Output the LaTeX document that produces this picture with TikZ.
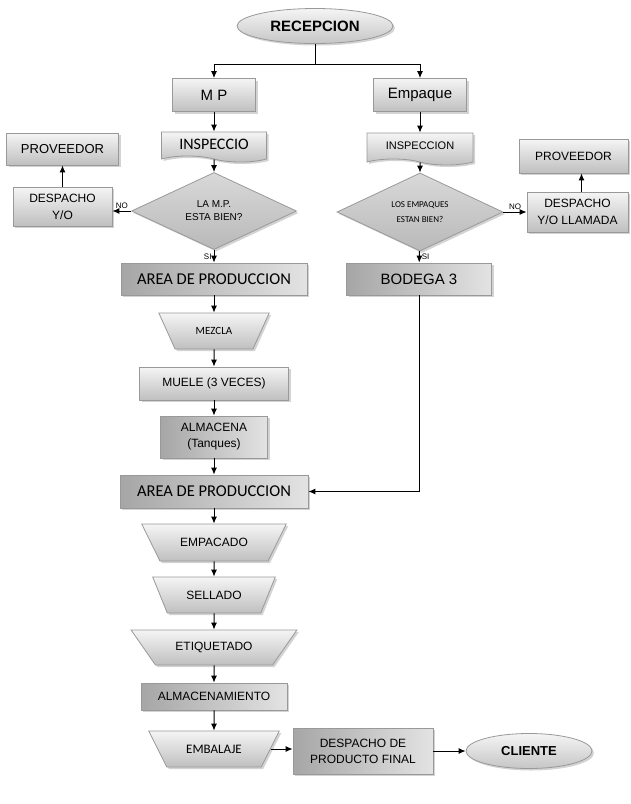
\documentclass[tikz,border=0pt]{standalone}
\usepackage{fontspec}
\setmainfont{Liberation Sans}
\newfontfamily\calibri{Carlito}
\usepackage{tikz}
\usetikzlibrary{shapes.geometric,shapes.symbols,shadows,arrows.meta}
\newcommand{\tam}[2]{\fontsize{#1}{#2}\selectfont}

\begin{document}
\begin{tikzpicture}[x=1pt,y=-1pt,>={Latex[length=7pt,width=6pt]},line width=1pt,
    every node/.style={inner sep=2pt,align=center},
    sombra/.style={drop shadow={shadow xshift=2pt,shadow yshift=-2pt,opacity=0.35}},
    caja/.style={rectangle,draw=gray!80,line width=0.8pt,top color=gray!8,bottom color=gray!50,sombra},
    cajaosc/.style={caja,left color=gray!70,right color=gray!22},
    elip/.style={ellipse,draw=gray!80,line width=0.8pt,top color=gray!8,bottom color=gray!45,sombra},
    decis/.style={diamond,draw=gray!80,line width=0.8pt,top color=gray!30,bottom color=gray!55,inner sep=0pt,sombra},
    doc/.style={caja,tape,tape bend top=none,tape bend bottom=out and in,tape bend height=6pt},
    trap/.style={caja,trapezium,trapezium stretches=true,shape border rotate=180},
    etiq/.style={font=\tam{8}{9},inner sep=2pt}]
    \useasboundingbox (0,0) rectangle (630,804);

    \node[elip,minimum width=156pt,minimum height=35pt,font=\bfseries\tam{15}{18}] (rec) at (315,26) {RECEPCION};
    \node[caja,minimum width=83pt,minimum height=33pt,font=\tam{15}{18}] (mp) at (214,95) {M P};
    \node[caja,minimum width=93pt,minimum height=33pt,font=\tam{15}{18}] (emp) at (420,95) {Empaque};
    \node[doc,minimum width=105pt,minimum height=30pt,font=\calibri\tam{16}{19}] (insp1) at (214,144) {INSPECCIO};
    \node[doc,minimum width=106pt,minimum height=32pt,font=\tam{11}{13}] (insp2) at (420,146) {INSPECCION};
    \node[decis,minimum width=165pt,minimum height=64pt,font=\tam{10}{13}] (dec1) at (214,211) {LA M.P.\\ESTA BIEN?};
    \node[decis,minimum width=166pt,minimum height=66pt,font=\calibri\tam{9}{15}] (dec2) at (420,212) {LOS EMPAQUES\\ESTAN BIEN?};
    \node[caja,minimum width=112pt,minimum height=32pt,font=\tam{13}{16}] (prov1) at (62.5,149) {PROVEEDOR};
    \node[caja,minimum width=99pt,minimum height=39pt,font=\tam{12}{17}] (desp1) at (62.5,206.5) {DESPACHO\\Y/O};
    \node[caja,minimum width=109pt,minimum height=34pt,font=\tam{12}{15}] (prov2) at (573.5,156) {PROVEEDOR};
    \node[caja,minimum width=101pt,minimum height=40pt,font=\tam{12}{17}] (desp2) at (577.5,212) {DESPACHO\\Y/O LLAMADA};
    \node[cajaosc,minimum width=186pt,minimum height=32pt,font=\calibri\tam{16.5}{19}] (area1) at (214,279) {AREA DE PRODUCCION};
    \node[cajaosc,minimum width=145pt,minimum height=32pt,font=\tam{15}{18}] (bod) at (419,279) {BODEGA 3};
    \node[trap,minimum width=111pt,minimum height=36pt,trapezium angle=53,font=\calibri\tam{11}{13}] (mez) at (214,331) {MEZCLA};
    \node[caja,minimum width=149pt,minimum height=33pt,font=\tam{12}{15}] (muele) at (214,383.5) {MUELE (3 VECES)};
    \node[cajaosc,minimum width=107pt,minimum height=42pt,font=\tam{12}{16}] (alm) at (214,437) {ALMACENA\\(Tanques)};
    \node[cajaosc,minimum width=188pt,minimum height=33pt,font=\calibri\tam{16.5}{19}] (area2) at (214,491.5) {AREA DE PRODUCCION};
    \node[trap,minimum width=145pt,minimum height=37pt,trapezium angle=46,font=\tam{12}{15}] (empc) at (214,542.5) {EMPACADO};
    \node[trap,minimum width=123pt,minimum height=36pt,trapezium angle=53.5,font=\tam{12}{15}] (sell) at (214,595) {SELLADO};
    \node[trap,minimum width=166pt,minimum height=35pt,trapezium angle=41,font=\tam{12}{15}] (etq) at (214,647.5) {ETIQUETADO};
    \node[cajaosc,minimum width=146pt,minimum height=27pt,font=\tam{12}{15}] (almc) at (214,696.5) {ALMACENAMIENTO};
    \node[trap,minimum width=131pt,minimum height=36pt,trapezium angle=47.5,font=\calibri\tam{13}{15}] (emb) at (214,749) {EMBALAJE};
    \node[cajaosc,minimum width=140pt,minimum height=46pt,font=\tam{12}{16}] (dpf) at (363,751) {DESPACHO DE\\PRODUCTO FINAL};
    \node[elip,minimum width=126pt,minimum height=35pt,font=\bfseries\tam{13}{16}] (cli) at (529,751) {CLIENTE};

    \coordinate (split) at (315,64);
    \draw (rec) -- (split);
    \draw[->] (split) -| (mp);
    \draw[->] (split) -| (emp);
    \draw[->] (mp) -- (insp1);
    \draw[->] (emp) -- (insp2);
    \draw[->] (insp1) -- (dec1);
    \draw[->] (insp2) -- (dec2);
    \draw[->] (dec1.west) -- node[etiq,above]{NO} (dec1.west -| desp1.east);
    \draw[->] (desp1) -- (prov1);
    \draw[->] (dec1) -- node[etiq,left]{SI} (area1);
    \draw[->] (dec2.east) -- node[etiq,above]{NO} (dec2.east -| desp2.west);
    \draw[->] ([xshift=4pt]desp2.north) -- ([xshift=4pt]desp2.north |- prov2.south);
    \draw[->] (dec2) -- node[etiq,right]{SI} (bod);
    \foreach \a/\b in {area1/mez,mez/muele,muele/alm,alm/area2,area2/empc,empc/sell,sell/etq,etq/almc,almc/emb}
      \draw[->] (\a) -- (\b);
    \draw[->] (bod) |- (area2);
    \draw[->] (emb.east) -- (emb.east -| dpf.west);
    \draw[->] (dpf) -- (cli);
\end{tikzpicture}
\end{document}
